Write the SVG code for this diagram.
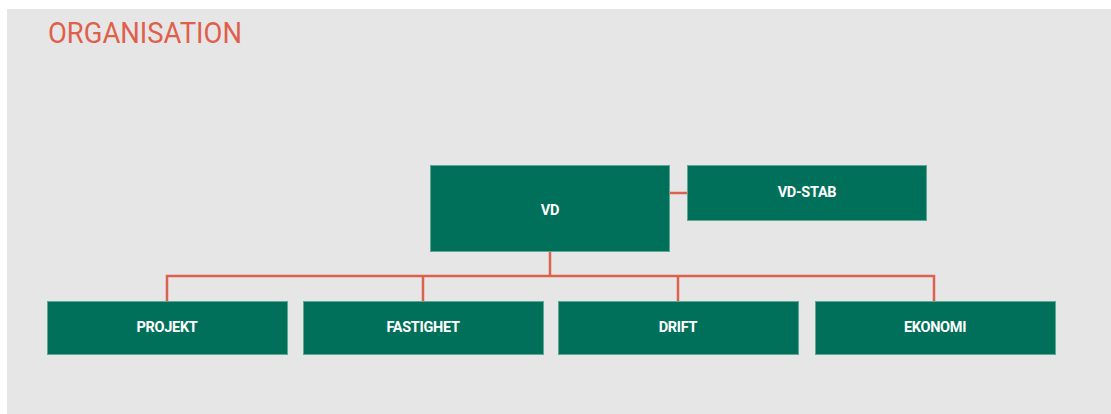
<svg xmlns="http://www.w3.org/2000/svg" width="1111" height="414" viewBox="0 0 1111 414">
<style>
.box{fill:#00705a;stroke:#5fa693;stroke-width:1}
.lbl{font-family:"Roboto","Liberation Sans",sans-serif;font-weight:bold;font-size:14.5px;fill:#ffffff;text-anchor:middle;letter-spacing:-0.3px}
.con{stroke:#dd614c;stroke-width:2.5;fill:none}
</style>
<rect x="7" y="9" width="1104" height="405" fill="#e6e6e6"/>
<text x="48" y="43" font-family="Roboto, 'Liberation Sans', sans-serif" font-size="30" fill="#df5f4b" textLength="194" lengthAdjust="spacingAndGlyphs">ORGANISATION</text>
<g id="connectors">
<path class="con" d="M670 193H687"/>
<path class="con" d="M550 252V276"/>
<path class="con" d="M167 301V276H934V301"/>
<path class="con" d="M423 276V301"/>
<path class="con" d="M678 276V301"/>
</g>
<g id="vd"><rect class="box" x="430.5" y="165.5" width="239" height="86"/><text class="lbl" x="550" y="215">VD</text></g>
<g id="vd-stab"><rect class="box" x="687.5" y="165.5" width="239" height="55"/><text class="lbl" x="807" y="197">VD-STAB</text></g>
<g id="projekt"><rect class="box" x="47.5" y="301.5" width="240" height="53"/><text class="lbl" x="167" y="332">PROJEKT</text></g>
<g id="fastighet"><rect class="box" x="303.5" y="301.5" width="240" height="53"/><text class="lbl" x="423" y="332">FASTIGHET</text></g>
<g id="drift"><rect class="box" x="558.5" y="301.5" width="240" height="53"/><text class="lbl" x="678" y="332">DRIFT</text></g>
<g id="ekonomi"><rect class="box" x="815.5" y="301.5" width="240" height="53"/><text class="lbl" x="935" y="332">EKONOMI</text></g>
</svg>
